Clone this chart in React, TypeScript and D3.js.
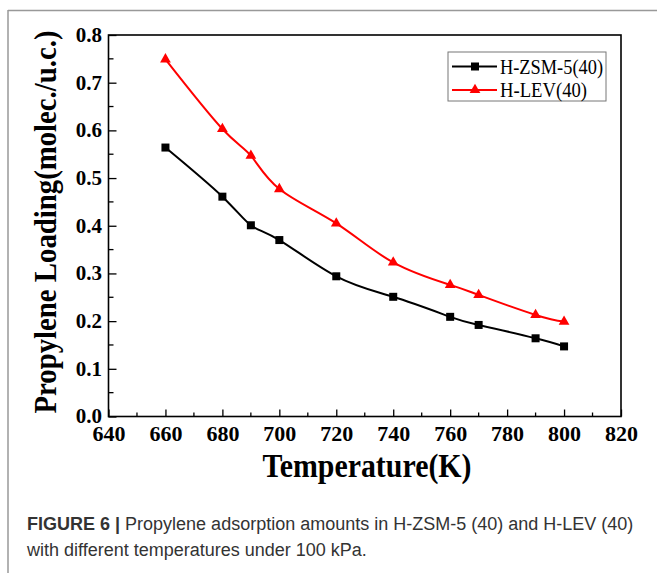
import { useRef, useEffect } from "react";
import * as d3 from "d3";

// values
const temps = [660, 680, 690, 700, 720, 740, 760, 770, 790, 800];
const zsm5 = [0.564, 0.461, 0.401, 0.37, 0.294, 0.251, 0.209, 0.192, 0.164, 0.147];
const lev = [0.749, 0.603, 0.547, 0.477, 0.405, 0.323, 0.276, 0.255, 0.213, 0.199];
const seriesNames = ["H-ZSM-5(40)", "H-LEV(40)"];
const xMajor = [640, 660, 680, 700, 720, 740, 760, 780, 800, 820];
const yMajor = [0, 0.1, 0.2, 0.3, 0.4, 0.5, 0.6, 0.7, 0.8];

const width = 657;
const height = 573;
const left = 108.5;
const right = 621;
const top = 35;
const bottom = 416.5;
const serif = "'Liberation Serif', 'Times New Roman', serif";
const sans = "'Liberation Sans', Arial, sans-serif";

const App = () => {
  const svgRef = useRef<SVGSVGElement>(null);

  useEffect(() => {
    const svg = d3.select(svgRef.current);
    svg.selectAll("*").remove();

    const x = d3.scaleLinear().domain([640, 820]).range([left, right]);
    const y = d3.scaleLinear().domain([0, 0.8]).range([bottom, top]);

    // page frame lines
    svg.append("line").attr("x1", 8).attr("x2", width).attr("y1", 10.5).attr("y2", 10.5)
      .attr("stroke", "#999").attr("stroke-width", 1.5);
    svg.append("line").attr("x1", 8).attr("x2", 8).attr("y1", 10).attr("y2", height)
      .attr("stroke", "#999").attr("stroke-width", 1.5);

    // minor ticks
    const xMinor = d3.range(650, 820, 20);
    const yMinor = d3.range(0.05, 0.8, 0.1);
    svg.append("g").selectAll("line").data(xMinor).join("line")
      .attr("x1", (d) => x(d)).attr("x2", (d) => x(d))
      .attr("y1", bottom).attr("y2", bottom - 4)
      .attr("stroke", "#000").attr("stroke-width", 1.3);
    svg.append("g").selectAll("line").data(yMinor).join("line")
      .attr("x1", left).attr("x2", left + 5)
      .attr("y1", (d) => y(d)).attr("y2", (d) => y(d))
      .attr("stroke", "#000").attr("stroke-width", 1.3);

    // major axes
    const xAxis = svg.append("g").attr("transform", `translate(0,${bottom})`)
      .call(d3.axisBottom(x).tickValues(xMajor).tickSize(-7).tickFormat(d3.format("d")));
    xAxis.select(".domain").remove();
    xAxis.selectAll(".tick line").attr("stroke", "#000").attr("stroke-width", 1.3);
    xAxis.selectAll(".tick text")
      .attr("y", 24).attr("dy", null)
      .attr("font-family", serif).attr("font-weight", "bold")
      .attr("font-size", 22).attr("fill", "#000");

    const yAxis = svg.append("g").attr("transform", `translate(${left},0)`)
      .call(d3.axisLeft(y).tickValues(yMajor).tickSize(-8).tickFormat(d3.format(".1f")));
    yAxis.select(".domain").remove();
    yAxis.selectAll(".tick line").attr("stroke", "#000").attr("stroke-width", 1.3);
    yAxis.selectAll(".tick text")
      .attr("x", -6.5).attr("dy", "0.3em")
      .attr("font-family", serif).attr("font-weight", "bold")
      .attr("font-size", 21).attr("fill", "#000");

    // plot frame
    svg.append("rect")
      .attr("x", left).attr("y", top)
      .attr("width", right - left).attr("height", bottom - top)
      .attr("fill", "none").attr("stroke", "#000").attr("stroke-width", 1.6);

    const line = d3.line<number>()
      .x((d, i) => x(temps[i]))
      .y((d) => y(d))
      .curve(d3.curveNatural);

    // H-ZSM-5
    svg.append("path").attr("d", line(zsm5))
      .attr("fill", "none").attr("stroke", "#000").attr("stroke-width", 2);
    svg.append("g").selectAll("rect").data(zsm5).join("rect")
      .attr("x", (d, i) => x(temps[i]) - 4).attr("y", (d) => y(d) - 4)
      .attr("width", 8).attr("height", 8).attr("fill", "#000");

    // H-LEV
    const tri = d3.symbol().type(d3.symbolTriangle).size(50);
    svg.append("path").attr("d", line(lev))
      .attr("fill", "none").attr("stroke", "#ff0000").attr("stroke-width", 2);
    svg.append("g").selectAll("path").data(lev).join("path")
      .attr("d", tri)
      .attr("transform", (d, i) => `translate(${x(temps[i])},${y(d)})`)
      .attr("fill", "#ff0000");

    // legend
    const legend = svg.append("g");
    legend.append("rect")
      .attr("x", 448).attr("y", 52).attr("width", 158).attr("height", 49)
      .attr("fill", "#fff").attr("stroke", "#777").attr("stroke-width", 1);
    const rows = [
      { name: seriesNames[0], color: "#000", yy: 66.5, marker: "square", len: 103 },
      { name: seriesNames[1], color: "#ff0000", yy: 90, marker: "triangle", len: 87 },
    ];
    rows.forEach((r) => {
      legend.append("line")
        .attr("x1", 452).attr("x2", 497).attr("y1", r.yy).attr("y2", r.yy)
        .attr("stroke", r.color).attr("stroke-width", 2);
      if (r.marker === "square") {
        legend.append("rect").attr("x", 471).attr("y", r.yy - 4)
          .attr("width", 8).attr("height", 8).attr("fill", r.color);
      } else {
        legend.append("path").attr("d", tri)
          .attr("transform", `translate(475,${r.yy})`).attr("fill", r.color);
      }
      legend.append("text")
        .attr("x", 500).attr("y", r.yy + 7)
        .attr("font-family", serif).attr("font-size", 20)
        .attr("textLength", r.len).attr("lengthAdjust", "spacingAndGlyphs")
        .text(r.name);
    });

    // axis titles
    svg.append("text")
      .attr("x", 367).attr("y", 477)
      .attr("text-anchor", "middle")
      .attr("font-family", serif).attr("font-weight", "bold").attr("font-size", 33)
      .attr("textLength", 209).attr("lengthAdjust", "spacingAndGlyphs")
      .text("Temperature(K)");
    svg.append("text")
      .attr("transform", "translate(56,222) rotate(-90)")
      .attr("text-anchor", "middle")
      .attr("font-family", serif).attr("font-weight", "bold").attr("font-size", 32)
      .attr("textLength", 383).attr("lengthAdjust", "spacingAndGlyphs")
      .text("Propylene Loading(molec./u.c.)");

    // caption
    const cap1 = svg.append("text")
      .attr("x", 27).attr("y", 530)
      .attr("font-family", sans).attr("font-size", 18).attr("fill", "#333");
    cap1.append("tspan").attr("font-weight", "bold").text("FIGURE 6 | ");
    cap1.append("tspan").text("Propylene adsorption amounts in H-ZSM-5 (40) and H-LEV (40)");
    svg.append("text")
      .attr("x", 27).attr("y", 556)
      .attr("font-family", sans).attr("font-size", 18).attr("fill", "#333")
      .text("with different temperatures under 100 kPa.");
  }, []);

  return (
    <div style={{ position: "absolute", left: 0, top: 0 }}>
      <svg ref={svgRef} width={width} height={height} style={{ display: "block", background: "#fff" }}></svg>
    </div>
  );
};

export default App;
